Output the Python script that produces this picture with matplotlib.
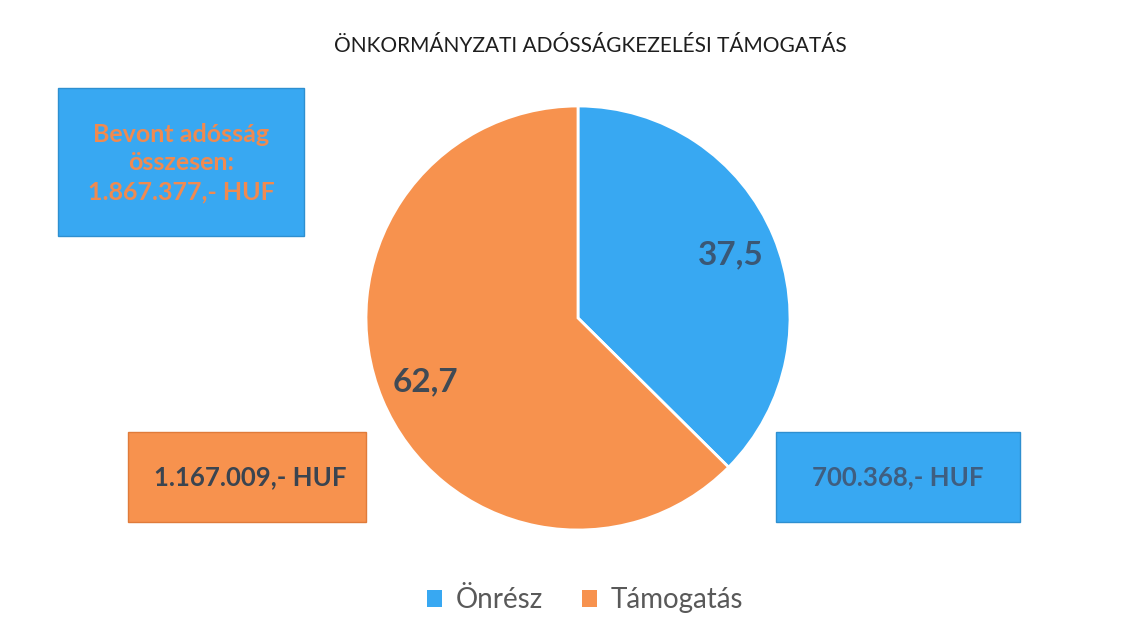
import matplotlib
matplotlib.use("Agg")
import matplotlib.pyplot as plt
from matplotlib.patches import Rectangle

# data
categories = ["Önrész", "Támogatás"]
values = [37.5, 62.7]
amounts = ["700.368,- HUF", "1.167.009,- HUF"]
total_text = "Bevont adósság\nösszesen:\n1.867.377,- HUF"
title = "ÖNKORMÁNYZATI ADÓSSÁGKEZELÉSI TÁMOGATÁS"

blue = "#38A8F2"
orange = "#F7924E"
colors = [blue, orange]

plt.rcParams["font.family"] = ["Lato", "DejaVu Sans"]

W, H = 1131, 626
fig = plt.figure(figsize=(W / 100, H / 100), dpi=100)
ax = fig.add_axes([0, 0, 1, 1])

total = sum(values)
wedges, _, autotexts = ax.pie(
    values,
    colors=colors,
    startangle=90,
    counterclock=False,
    center=(578, H - 318),
    radius=212,
    autopct=lambda p: f"{p * total / 100:.1f}".replace(".", ","),
    pctdistance=0.78,
    wedgeprops={"edgecolor": "white", "linewidth": 2},
    textprops={"fontsize": 24, "fontweight": "bold", "color": "#404A55"},
)
autotexts[0].set_color("#3A5775")
ax.set_xlim(0, W)
ax.set_ylim(0, H)
ax.set_aspect("equal")
ax.axis("off")

# title
ax.text(590, H - 46, title, ha="center", va="center", fontsize=15, color="#1E1E1E")

# info boxes
ax.add_patch(Rectangle((58, H - 236), 246, 148, facecolor=blue, edgecolor="#2E8FD0", lw=1))
ax.text(181, H - 163, total_text, ha="center", va="center", fontsize=18,
        fontweight="bold", color="#F08A50", linespacing=1.3)

ax.add_patch(Rectangle((128, H - 522), 238, 90, facecolor=orange, edgecolor="#E07B3A", lw=1))
ax.text(250, H - 477, amounts[1], ha="center", va="center", fontsize=18.5,
        fontweight="bold", color="#3A4450")

ax.add_patch(Rectangle((776, H - 522), 244, 90, facecolor=blue, edgecolor="#2E8FD0", lw=1))
ax.text(898, H - 477, amounts[0], ha="center", va="center", fontsize=18.5,
        fontweight="bold", color="#3F5E80")

# legend
leg = ax.legend(wedges, categories, loc="center", bbox_to_anchor=(585 / W, 1 - 600 / H),
                ncol=2, frameon=False, fontsize=20, handlelength=0.55, handleheight=0.55,
                columnspacing=1.4, handletextpad=0.5)
for t in leg.get_texts():
    t.set_color("#595959")
for h in leg.legend_handles:
    h.set_edgecolor("none")

fig.savefig("out.png", dpi=100)
